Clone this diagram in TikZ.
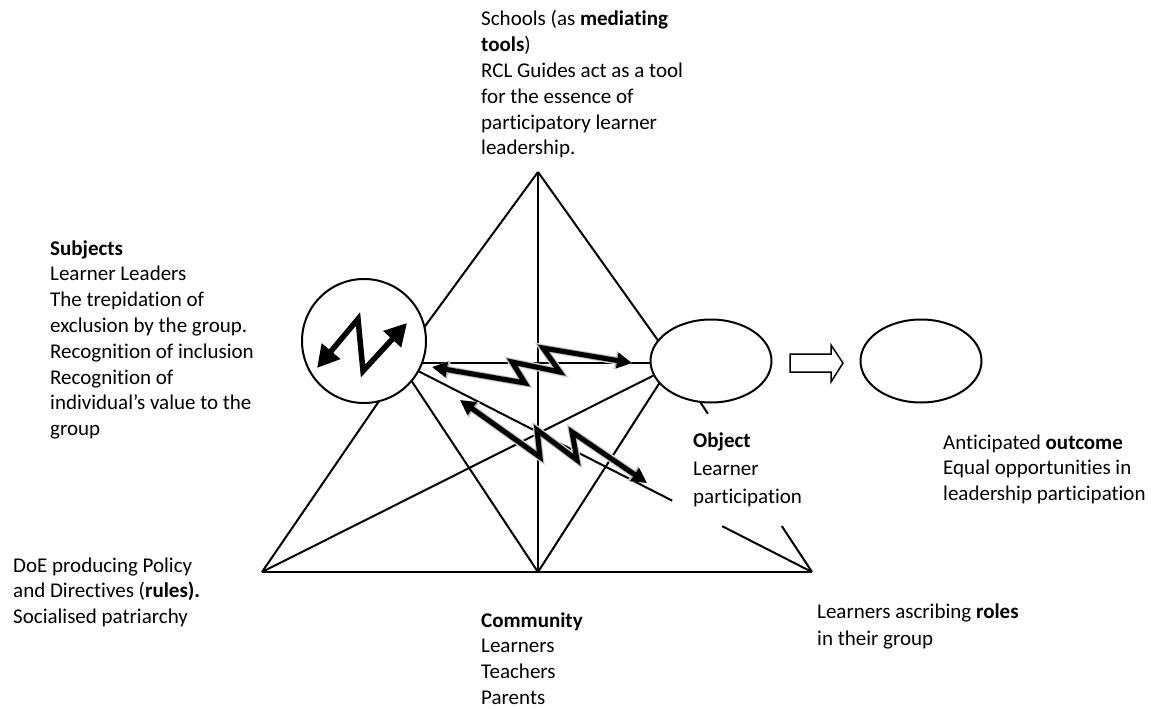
\documentclass[tikz,border=0pt]{standalone}
\usepackage{fontspec}
\setmainfont{Carlito}[Ligatures=NoCommon, RawFeature={-liga;-clig;-calt}]
\usetikzlibrary{arrows.meta,shapes.geometric,calc}

% left-aligned block whose baseline is the first line
\newcommand{\txtblock}[1]{\begin{tabular}[t]{@{}l@{}}#1\end{tabular}}

\begin{document}
\begin{tikzpicture}[x=1pt,y=-1pt,
  edge/.style={line width=2pt},
  lbl/.style={anchor=base west, inner sep=0pt, font=\fontsize{21}{25.8}\selectfont},
  zigsoft/.style={line width=8pt, black!10, line join=miter,
    {Triangle[length=17.5pt,width=18pt]}-{Triangle[length=17.5pt,width=18pt]}},
  zighalo/.style={line width=6.5pt, black!30, line join=miter,
    {Triangle[length=16.5pt,width=16.5pt]}-{Triangle[length=16.5pt,width=16.5pt]}},
  zig/.style={line width=5pt, line join=miter,
    {Triangle[length=15pt,width=15pt]}-{Triangle[length=15pt,width=15pt]}},
  bolt/.style={line width=5.5pt, line join=miter,
    {Triangle[length=22pt,width=23pt]}-{Triangle[length=22pt,width=23pt]}},
  oval/.style={draw, ellipse, line width=2pt, minimum width=121pt,
    minimum height=83pt, inner sep=0pt, outer sep=0pt}]

\useasboundingbox (0,0) rectangle (1152,709);

% triangle corners
\coordinate (apex) at (538,172);
\coordinate (bl) at (262,572);
\coordinate (bm) at (538,572);
\coordinate (br) at (812,572);

% subject, object and outcome
\node[draw, circle, line width=2pt, minimum size=124pt, inner sep=0pt, outer sep=0pt] (subj) at (364,341) {};
\node[oval] (obj) at (711,361) {};
\node[oval] (outc) at (921,361) {};

% connecting lines
\draw[edge] (apex) -- (subj.13);
\draw[edge] (apex) -- (obj.159);
\draw[edge] (apex) -- (bm);
\draw[edge] (subj.-21) -- (subj.-21 -| obj.west);
\draw[edge] (bl) -- (br);
\draw[edge] (bl) -- (subj.-76);
\draw[edge] (subj.-40) -- (bm);
\draw[edge] (bl) -- (obj.194);
\draw[edge] (bm) -- (obj.203);

% lines to the right corner, interrupted by the object label
\coordinate (s1) at ($(subj.-29)!0.645!(br)$);
\coordinate (s2) at ($(subj.-29)!0.772!(br)$);
\draw[edge] (subj.-29) -- (s1);
\draw[edge] (s2) -- (br);
\coordinate (o1) at ($(obj.255)!0.07!(br)$);
\coordinate (o2) at ($(obj.255)!0.73!(br)$);
\draw[edge] (obj.255) -- (o1);
\draw[edge] (o2) -- (br);

% tension arrow inside the subject circle
\coordinate (b1) at (317,368);
\coordinate (b2) at (358,319);
\coordinate (b3) at (363,371);
\coordinate (b4) at (407,323);
\draw[bolt] (b1) -- (b2) -- (b3) -- (b4);

% contradiction arrows between subject and object (soft-edged strokes)
\coordinate (za1) at (432,367);
\coordinate (za2) at (525,383);
\coordinate (za3) at (512,362);
\coordinate (za4) at (560,372);
\coordinate (za5) at (543,348);
\coordinate (za6) at (632,363);
\foreach \s in {zigsoft,zighalo,zig}
  \draw[\s] (za1) -- (za2) -- (za3) -- (za4) -- (za5) -- (za6);

\coordinate (zb1) at (460,400);
\coordinate (zb2) at (540,457);
\coordinate (zb3) at (537,430);
\coordinate (zb4) at (577,460);
\coordinate (zb5) at (572,432);
\coordinate (zb6) at (647,483);
\foreach \s in {zigsoft,zighalo,zig}
  \draw[\s] (zb1) -- (zb2) -- (zb3) -- (zb4) -- (zb5) -- (zb6);

% hollow arrow from object to outcome
\draw[line width=1.5pt, line join=miter]
  (790,354) -- (831,354) -- (831,345) -- (843,363) -- (831,382) -- (831,372) -- (790,372) -- cycle;

% labels
\node[lbl] (tools) at (481,26) {\txtblock{Schools (as \textbf{mediating}\\
  \textbf{tools})\\RCL Guides act as a tool\\for the essence of\\
  participatory learner\\leadership.}};
\node[lbl] (subjects) at (50,255) {\txtblock{\textbf{Subjects}\\Learner Leaders\\
  The trepidation of\\exclusion by the group.\\Recognition of inclusion\\
  Recognition of\\individual’s value to the\\group}};
\node[lbl] (rules) at (13,572) {\txtblock{DoE producing Policy\\
  and Directives (\textbf{rules).}\\Socialised patriarchy}};
\node[lbl] (community) at (481,627) {\txtblock{\textbf{Community}\\Learners\\Teachers\\Parents}};
\node[lbl, font=\fontsize{21}{27}\selectfont] (roles) at (817,618) {\txtblock{Learners ascribing \textbf{roles}\\in their group}};
\node[lbl, font=\fontsize{21}{28}\selectfont] (object) at (693,447) {\txtblock{\textbf{Object}\\Learner\\participation}};
\node[lbl] (outcome) at (943,449) {\txtblock{Anticipated \textbf{outcome}\\
  Equal opportunities in\\leadership participation}};

\end{tikzpicture}
\end{document}
